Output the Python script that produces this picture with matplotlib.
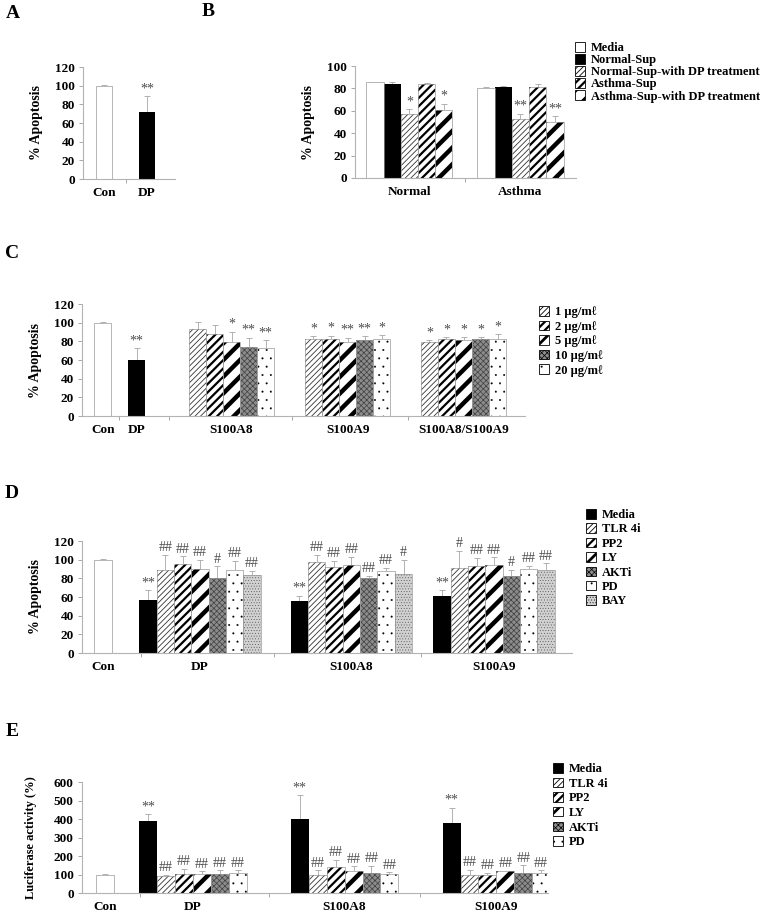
import matplotlib
matplotlib.use("Agg")
import matplotlib.pyplot as plt
from matplotlib.patches import Patch

# ---- data ----
A_cats = ["Con", "DP"]
A_vals = [100, 72]
A_err = [0.3, 17]
A_sig = ["", "**"]

B_groups = ["Normal", "Asthma"]
B_series = ["Media", "Normal-Sup", "Normal-Sup-with DP treatment",
            "Asthma-Sup", "Asthma-Sup-with DP treatment"]
B_vals = [[85.5, 83.5, 57.5, 84, 60.5],
          [80.5, 81, 53, 81, 50]]
B_err = [[0.5, 2.5, 4, 1, 6],
         [1, 1, 4.5, 3, 5]]
B_sig = [["", "", "*", "", "*"],
         ["", "", "**", "", "**"]]

C_ctrl = ["Con", "DP"]
C_ctrl_vals = [100, 60]
C_ctrl_err = [0.3, 12.5]
C_ctrl_sig = ["", "**"]
C_groups = ["S100A8", "S100A9", "S100A8/S100A9"]
C_doses = ["1 μg/mℓ", "2 μg/mℓ", "5 μg/mℓ", "10 μg/mℓ", "20 μg/mℓ"]
C_vals = [[93, 87.5, 79.5, 74, 72.5],
          [82, 83, 79.5, 81, 83],
          [79.5, 83, 81.5, 82, 83]]
C_err = [[7.5, 10.5, 11, 10, 8.5],
         [3.5, 3, 4.5, 4.5, 3.5],
         [2, 1.5, 3, 2.5, 4.5]]
C_sig = [["", "", "*", "**", "**"],
         ["*", "*", "**", "**", "*"],
         ["*", "*", "*", "*", "*"]]

D_con = 100
D_groups = ["DP", "S100A8", "S100A9"]
D_inhib = ["Media", "TLR 4i", "PP2", "LY", "AKTi", "PD", "BAY"]
D_vals = [[56.5, 88.5, 95.5, 90, 80, 88.5, 84],
          [56, 97, 92.5, 94, 80.5, 87.5, 85],
          [61, 91.5, 93, 94.5, 82, 90, 89]]
D_err = [[11, 17, 8, 10, 13, 10, 4],
         [5.5, 8, 6.5, 9, 2.5, 3.5, 15],
         [6, 18, 9, 8, 7, 3.5, 7]]
D_sig = [["**", "##", "##", "##", "#", "##", "##"],
         ["**", "##", "##", "##", "##", "##", "#"],
         ["**", "#", "##", "##", "#", "##", "##"]]

E_con = 100
E_groups = ["DP", "S100A8", "S100A9"]
E_inhib = ["Media", "TLR 4i", "PP2", "LY", "AKTi", "PD"]
E_vals = [[388, 94, 101, 103, 105, 108],
          [398, 96, 141, 117, 107, 105],
          [380, 99, 98, 117, 107, 108]]
E_err = [[40, 5, 29, 14, 18, 15],
         [130, 27, 40, 27, 38, 7],
         [81, 28, 10, 4, 43, 15]]
E_sig = [["**", "##", "##", "##", "##", "##"],
         ["**", "##", "##", "##", "##", "##"],
         ["**", "##", "##", "##", "##", "##"]]

# ---- styles ----
plt.rcParams["font.family"] = ["Liberation Serif", "DejaVu Serif"]
plt.rcParams["font.weight"] = "bold"
plt.rcParams["axes.labelweight"] = "bold"
plt.rcParams["font.size"] = 9

STY = {
    "white": dict(fc="white", hatch=None, hc="0.5", hlw=0.5),
    "black": dict(fc="black", hatch=None, hc="black", hlw=0.5),
    "thin": dict(fc="white", hatch="//////", hc="0.2", hlw=0.6),
    "dense": dict(fc="white", hatch="////", hc="black", hlw=1.6),
    "wide": dict(fc="white", hatch="//", hc="black", hlw=3.2),
    "check": dict(fc="0.55", hatch="xxxxxx", hc="0.25", hlw=0.5),
    "dots": dict(fc="white", hatch="..", hc="black", hlw=0.2),
    "fdots": dict(fc="0.82", hatch="......", hc="0.3", hlw=0.3),
}
B_sty = ["white", "black", "thin", "dense", "wide"]
C_sty = ["thin", "dense", "wide", "check", "dots"]
D_sty = ["black", "thin", "dense", "wide", "check", "dots", "fdots"]
E_sty = D_sty[:6]

W, H = 760, 922
fig = plt.figure(figsize=(W / 100, H / 100), dpi=100)


def px_axes(l, t, r, b):
    return fig.add_axes([l / W, 1 - b / H, (r - l) / W, (b - t) / H])


def set_hlw(patches, lw):
    for p in patches:
        if hasattr(p, "set_hatch_linewidth"):
            p.set_hatch_linewidth(lw)


def bar(ax, x, v, e, style, w, sig=""):
    s = STY[style]
    with plt.rc_context({"hatch.linewidth": s["hlw"]}):
        b = ax.bar(x, v, w, color=s["fc"], hatch=s["hatch"],
                   edgecolor=s["hc"], linewidth=0, zorder=2)
    set_hlw(b, s["hlw"])
    if style != "black":
        ax.bar(x, v, w, fill=False, edgecolor="0.6", linewidth=0.5, zorder=3)
    ax.errorbar(x, v, yerr=[[0], [e]], fmt="none", ecolor="0.65",
                elinewidth=0.6, capsize=2, capthick=0.6, zorder=1)
    if sig:
        ax.annotate(sig, (x, v + e), xytext=(0, 0.5), textcoords="offset points",
                    ha="center", va="bottom", fontsize=10, color="0.3",
                    fontweight="normal")


def style_axes(ax, ymax, ystep, label, label_px, xpos, xlabels, seps, lfs=10):
    ax.set_ylim(0, ymax)
    ax.set_yticks(range(0, ymax + 1, ystep))
    for sp in ["top", "right"]:
        ax.spines[sp].set_visible(False)
    for sp in ["left", "bottom"]:
        ax.spines[sp].set_color("0.7")
        ax.spines[sp].set_linewidth(0.8)
    ax.tick_params(axis="y", length=3, width=0.6, color="0.6", pad=3, labelsize=9.5)
    ax.set_xticks(xpos, xlabels)
    ax.tick_params(axis="x", which="major", length=0, pad=6, labelsize=9.5)
    ax.set_xticks(seps, minor=True)
    ax.tick_params(axis="x", which="minor", length=3, width=0.6, color="0.6")
    ax.set_ylabel(label, fontsize=lfs)
    bb = ax.get_position()
    ax.yaxis.set_label_coords(label_px / (bb.width * W), 0.5)


def legend(handles_sty, labels, x, y, fs=9, spacing=0.1):
    hs = []
    for st in handles_sty:
        s = STY[st]
        with plt.rc_context({"hatch.linewidth": min(s["hlw"], 2.0)}):
            p = Patch(facecolor=s["fc"], hatch=s["hatch"],
                      edgecolor="black", linewidth=0.6)
        hs.append(p)
    leg = fig.legend(hs, labels, loc="upper left",
                     bbox_to_anchor=(x / W, 1 - y / H),
                     frameon=False, handlelength=0.8, handleheight=0.8,
                     handletextpad=0.5, labelspacing=spacing, borderpad=0,
                     borderaxespad=0, fontsize=fs)
    for st, p in zip(handles_sty, leg.get_patches()):
        set_hlw([p], min(STY[st]["hlw"], 2.0))


# ---- panel A ----
axA = px_axes(83, 67, 175, 179)
for i in range(len(A_cats)):
    bar(axA, i, A_vals[i], A_err[i], ["white", "black"][i], 0.39, A_sig[i])
axA.set_xlim(-0.49, 1.65)
style_axes(axA, 120, 20, "% Apoptosis", -40, [0, 1], A_cats, [0.5])

# ---- panel B ----
axB = px_axes(355, 66, 576, 178)
wB = 0.155
for g in range(len(B_groups)):
    for k in range(len(B_series)):
        x = g + (k - 2) * wB
        bar(axB, x, B_vals[g][k], B_err[g][k], B_sty[k], wB, B_sig[g][k])
axB.set_xlim(-0.49, 1.5)
style_axes(axB, 100, 20, "% Apoptosis", -40, [0, 1], B_groups, [0.5])
legend(B_sty, B_series, 575, 42, fs=9, spacing=0.0)

# ---- panel C ----
axC = px_axes(82, 304, 525, 416)
wC = 0.147
C_ctrl_pos = [-0.11, 0.18]
for i in range(len(C_ctrl)):
    bar(axC, C_ctrl_pos[i], C_ctrl_vals[i], C_ctrl_err[i],
        ["white", "black"][i], wC, C_ctrl_sig[i])
for g in range(len(C_groups)):
    for k in range(len(C_doses)):
        x = g + 1 + (k - 2) * wC
        bar(axC, x, C_vals[g][k], C_err[g][k], C_sty[k], wC, C_sig[g][k])
axC.set_xlim(-0.29, 3.53)
style_axes(axC, 120, 20, "% Apoptosis", -40, C_ctrl_pos + [1, 2, 3],
           C_ctrl + C_groups, [0.03, 0.46, 1.52, 2.52])
legend(C_sty, C_doses, 539, 306, fs=9, spacing=0.2)

# ---- panel D ----
axD = px_axes(82, 541, 572, 653)
wD = 0.118
D_pos = [1, 2.03, 3.0]
bar(axD, 0.34, D_con, 0.3, "white", wD)
for g in range(len(D_groups)):
    for k in range(len(D_inhib)):
        x = D_pos[g] + (k - 3) * wD
        bar(axD, x, D_vals[g][k], D_err[g][k], D_sty[k], wD, D_sig[g][k])
axD.set_xlim(0.197, 3.53)
style_axes(axD, 120, 20, "% Apoptosis", -40, [0.34] + D_pos,
           ["Con"] + D_groups, [0.6, 1.5, 2.5])
legend(D_sty, D_inhib, 586, 509, fs=9, spacing=0.18)

# ---- panel E ----
axE = px_axes(82, 782, 548, 893)
wE = 0.118
E_pos = [1, 2.0, 3.0]
bar(axE, 0.42, E_con, 1, "white", wE)
for g in range(len(E_groups)):
    for k in range(len(E_inhib)):
        x = E_pos[g] + (k - 2.5) * wE
        bar(axE, x, E_vals[g][k], E_err[g][k], E_sty[k], wE, E_sig[g][k])
axE.set_xlim(0.27, 3.34)
style_axes(axE, 600, 100, "Luciferase activity (%)", -45, [0.42] + E_pos,
           ["Con"] + E_groups, [0.65, 1.5, 2.5], lfs=9)
legend(E_sty, E_inhib, 553, 763, fs=9, spacing=0.2)

# panel letters
for lab, x, y in [("A", 13, 13), ("B", 208, 12), ("C", 12, 253),
                  ("D", 12, 493), ("E", 12, 731)]:
    fig.text(x / W, 1 - y / H, lab, fontsize=14, fontweight="bold",
             ha="center", va="center")

fig.savefig("out.png", dpi=100)
